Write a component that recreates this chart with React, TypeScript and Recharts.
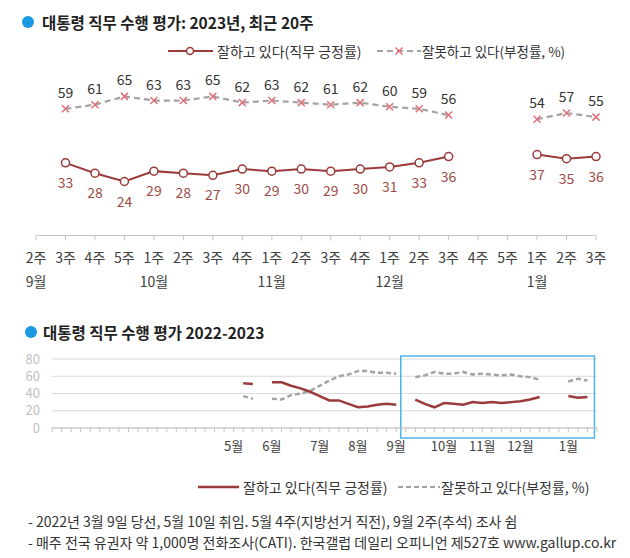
import React from "react";
import { LineChart, Line, XAxis, YAxis, CartesianGrid, ReferenceArea } from "recharts";

// 최근 20주 (2022년 9월 2주 ~ 2023년 1월 3주)
const weekLabels = ["2주", "3주", "4주", "5주", "1주", "2주", "3주", "4주", "1주", "2주", "3주", "4주", "1주", "2주", "3주", "4주", "5주", "1주", "2주", "3주"];
const monthLabels = ["9월", "", "", "", "10월", "", "", "", "11월", "", "", "", "12월", "", "", "", "", "1월", "", ""];
const approve = [null, 33, 28, 24, 29, 28, 27, 30, 29, 30, 29, 30, 31, 33, 36, null, null, 37, 35, 36];
const disapprove = [null, 59, 61, 65, 63, 63, 65, 62, 63, 62, 61, 62, 60, 59, 56, null, null, 54, 57, 55];

// 2022-2023 주간 추이
const longYears = [2021, 2022, 2022, 2022, 2022, 2022, 2022, 2022, 2022, 2022, 2022, 2022, 2022, 2023];
const longMonths = ["12월", "1월", "2월", "3월", "4월", "5월", "6월", "7월", "8월", "9월", "10월", "11월", "12월", "1월"];
const longWeeksInMonth = [[4, 5], [1, 2, 3, 4], [1, 2, 3, 4], [1, 2, 3, 4, 5], [1, 2, 3, 4], [1, 2, 3, 4], [1, 2, 3, 4, 5], [1, 2, 3, 4], [1, 2, 3, 4], [1, 2, 3, 4, 5], [1, 2, 3, 4], [1, 2, 3, 4], [1, 2, 3, 4, 5], [1, 2, 3, 4]];
const longShowMonth = [false, false, false, false, false, true, true, true, true, true, true, true, true, true];
const longApprove = [
  null, null, null, null, null, null, null, null, null, null,
  null, null, null, null, null, null, null, null, null, null,
  52, 51, null, 53, 53, 49, 46, 42, 37, 32,
  32, 28, 24, 25, 27, 28, 27, null, 33, 28,
  24, 29, 28, 27, 30, 29, 30, 29, 30, 31,
  33, 36, null, null, 37, 35, 36, null,
];
const longDisapprove = [
  null, null, null, null, null, null, null, null, null, null,
  null, null, null, null, null, null, null, null, null, null,
  37, 34, null, 34, 33, 38, 40, 43, 49, 55,
  60, 62, 66, 66, 64, 64, 63, null, 59, 61,
  65, 63, 63, 65, 62, 63, 62, 61, 62, 60,
  59, 56, null, null, 54, 57, 55, null,
];

const RED = "#9b3a3a";
const RED_LABEL = "#9e4a46";
const GRAY = "#a3a3a3";
const PINK = "#e0707a";
const BLUE = "#1a9ae0";
const AXIS = "#c4c4c4";
const FONT = "'Noto Sans CJK KR', 'Noto Sans', sans-serif";

const topData = weekLabels.map((w, i) => ({
  week: w,
  month: monthLabels[i],
  approve: approve[i],
  disapprove: disapprove[i],
}));

const longData = longMonths.flatMap((m, mi) =>
  longWeeksInMonth[mi].map((w) => ({
    week: `${longYears[mi]}년 ${m} ${w}주`,
    label: longShowMonth[mi] && w === 1 ? m : "",
  }))
).map((row, i) => ({ ...row, approve: longApprove[i], disapprove: longDisapprove[i] }));

function TopTick(props: any) {
  const { x, y, payload, index } = props;
  const m = monthLabels[index ?? payload.index];
  return (
    <g>
      <text x={x} y={y + 14} textAnchor="middle" dominantBaseline="central" fontSize={14} fill="#404040" fontFamily={FONT}>
        {payload.value}
      </text>
      {m ? (
        <text x={x} y={y + 38} textAnchor="middle" dominantBaseline="central" fontSize={14} fill="#404040" fontFamily={FONT}>
          {m}
        </text>
      ) : null}
    </g>
  );
}

function LongTick(props: any) {
  const { x, y, payload, index } = props;
  const row = longData[index ?? payload.index];
  if (!row || !row.label) return <g />;
  return (
    <text x={x} y={y + 11} textAnchor="middle" dominantBaseline="central" fontSize={13} fill="#404040" fontFamily={FONT}>
      {row.label}
    </text>
  );
}

const approveLabel = (p: any) => {
  if (p.value == null || p.x == null || p.y == null) return null;
  return (
    <text key={`a${p.index}`} x={p.x} y={p.y + 19} textAnchor="middle" dominantBaseline="central" fontSize={14} fill={RED_LABEL} fontFamily={FONT}>
      {p.value}
    </text>
  );
};

const disapproveLabel = (p: any) => {
  if (p.value == null || p.x == null || p.y == null) return null;
  return (
    <text key={`d${p.index}`} x={p.x} y={p.y - 17} textAnchor="middle" dominantBaseline="central" fontSize={14} fill="#333" fontFamily={FONT}>
      {p.value}
    </text>
  );
};

const crossDot = (p: any) => {
  if (p.cx == null || p.cy == null || p.value == null) return <g key={`x${p.index}`} />;
  const s = 3.5;
  return (
    <path
      key={`x${p.index}`}
      d={`M${p.cx - s},${p.cy - s}L${p.cx + s},${p.cy + s}M${p.cx + s},${p.cy - s}L${p.cx - s},${p.cy + s}`}
      stroke={PINK}
      strokeWidth={1.5}
      fill="none"
    />
  );
};

const textStyle: React.CSSProperties = {
  position: "absolute",
  fontFamily: FONT,
  whiteSpace: "nowrap",
  color: "#333",
};

function Title({ top, dotLeft, left, children }: { top: number; dotLeft: number; left: number; children: React.ReactNode }) {
  return (
    <>
      <div style={{ position: "absolute", left: dotLeft - 6, top: top - 6, width: 12, height: 12, borderRadius: 6, background: BLUE }} />
      <div style={{ ...textStyle, left, top: top - 11, lineHeight: "22px", fontSize: 15.5, fontWeight: 700, color: "#222" }}>{children}</div>
    </>
  );
}

function LegendText({ left, top, size = 14, children }: { left: number; top: number; size?: number; children: React.ReactNode }) {
  return <div style={{ ...textStyle, left, top: top - 10, lineHeight: "20px", fontSize: size }}>{children}</div>;
}

export default function App() {
  return (
    <div style={{ position: "absolute", left: 0, top: 0, width: 630, height: 558, background: "#fff", fontFamily: FONT, overflow: "hidden" }}>
      <div style={{ position: "absolute", left: 0, top: 0 }}>
        <LineChart width={630} height={300} data={topData} margin={{ top: 86, right: 34, left: 36, bottom: 4.5 }}>
          <XAxis
            dataKey="week"
            interval={0}
            height={60}
            tickSize={5}
            tickMargin={2}
            axisLine={{ stroke: AXIS, strokeWidth: 1 }}
            tickLine={{ stroke: AXIS, strokeWidth: 1 }}
            tick={<TopTick />}
          />
          <YAxis hide domain={[-2, 70]} />
          <Line
            dataKey="disapprove"
            stroke={GRAY}
            strokeWidth={2.2}
            strokeDasharray="6 4"
            dot={crossDot}
            activeDot={false}
            label={disapproveLabel}
            isAnimationActive={false}
          />
          <Line
            dataKey="approve"
            stroke={RED}
            strokeWidth={2}
            dot={{ r: 4, fill: "#fff", stroke: RED, strokeWidth: 1.5 }}
            activeDot={false}
            label={approveLabel}
            isAnimationActive={false}
          />
        </LineChart>
      </div>

      <Title top={22} dotLeft={28} left={42}>대통령 직무 수행 평가: 2023년, 최근 20주</Title>

      {/* top legend */}
      <svg style={{ position: "absolute", left: 168, top: 44 }} width={46} height={14}>
        <line x1={0} y1={7} x2={45} y2={7} stroke={RED} strokeWidth={2} />
        <circle cx={22} cy={7} r={3.5} fill="#fff" stroke={RED} strokeWidth={1.5} />
      </svg>
      <LegendText left={217} top={51}>잘하고 있다(직무 긍정률)</LegendText>
      <svg style={{ position: "absolute", left: 377, top: 44 }} width={45} height={14}>
        <line x1={0} y1={7} x2={44} y2={7} stroke={GRAY} strokeWidth={2} strokeDasharray="6 4" />
        {crossDot({ cx: 22, cy: 7, value: 1, index: "legend" })}
      </svg>
      <LegendText left={422} top={51} size={13.5}>잘못하고 있다(부정률, %)</LegendText>

      <div style={{ position: "absolute", left: 0, top: 300 }}>
        <LineChart width={630} height={170} data={longData} margin={{ top: 59, right: 33, left: 0, bottom: 12 }}>
          <CartesianGrid vertical={false} stroke="#d9d9d9" />
          <XAxis
            dataKey="week"
            interval={0}
            height={30}
            tickSize={4}
            tickMargin={2}
            axisLine={{ stroke: AXIS }}
            tickLine={{ stroke: AXIS }}
            tick={<LongTick />}
          />
          <YAxis
            width={52}
            domain={[0, 80]}
            ticks={[0, 20, 40, 60, 80]}
            interval={0}
            axisLine={false}
            tickLine={false}
            tickSize={0}
            tickMargin={12}
            tick={{ fontSize: 13, fill: "#bfbfbf", fontFamily: FONT }}
          />
          <ReferenceArea
            x1={longData[37].week}
            x2={longData[56].week}
            ifOverflow="visible"
            shape={(p: any) => (
              <rect x={p.x - 5} y={p.y - 3} width={p.width + 12} height={p.height + 13} fill="none" stroke="#4cb4e7" strokeWidth={1.5} />
            )}
          />
          <Line dataKey="disapprove" stroke={GRAY} strokeWidth={2.5} strokeDasharray="5 3" dot={false} activeDot={false} isAnimationActive={false} />
          <Line dataKey="approve" stroke={RED} strokeWidth={2.5} dot={false} activeDot={false} isAnimationActive={false} />
        </LineChart>
      </div>

      <Title top={332} dotLeft={31} left={43}>대통령 직무 수행 평가 2022-2023</Title>

      {/* bottom legend */}
      <svg style={{ position: "absolute", left: 198, top: 480 }} width={42} height={14}>
        <line x1={0} y1={7} x2={41} y2={7} stroke={RED} strokeWidth={2.5} />
      </svg>
      <LegendText left={243} top={487}>잘하고 있다(직무 긍정률)</LegendText>
      <svg style={{ position: "absolute", left: 398, top: 480 }} width={43} height={14}>
        <line x1={0} y1={7} x2={42} y2={7} stroke={GRAY} strokeWidth={2} strokeDasharray="5 3" />
      </svg>
      <LegendText left={441} top={487}>잘못하고 있다(부정률, %)</LegendText>

      <LegendText left={28} top={521}>- 2022년 3월 9일 당선, 5월 10일 취임. 5월 4주(지방선거 직전), 9월 2주(추석) 조사 쉼</LegendText>
      <LegendText left={28} top={542}>- 매주 전국 유권자 약 1,000명 전화조사(CATI). 한국갤럽 데일리 오피니언 제527호 www.gallup.co.kr</LegendText>
    </div>
  );
}
